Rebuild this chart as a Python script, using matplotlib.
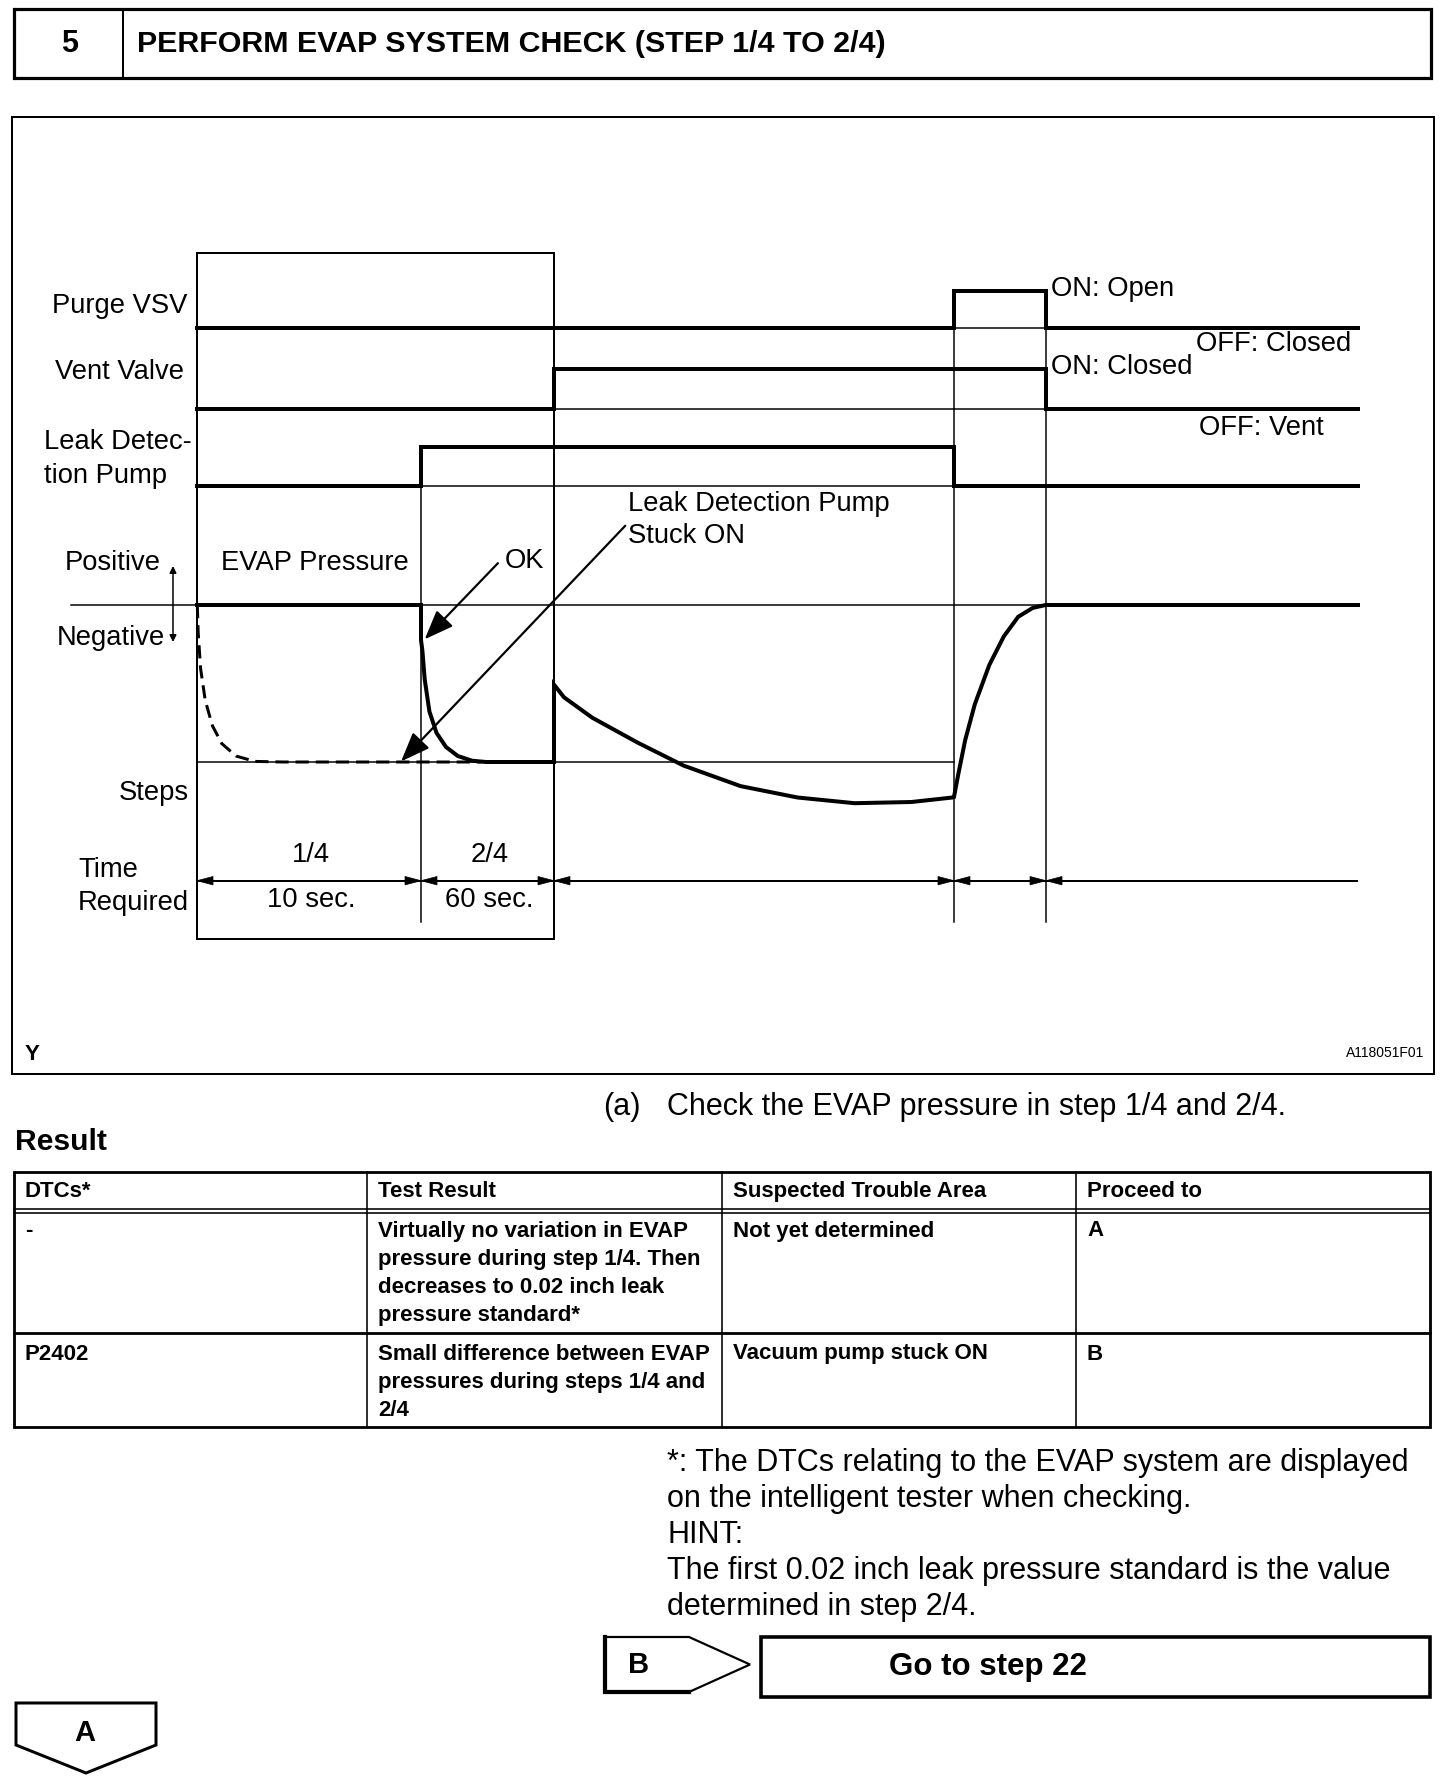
import matplotlib
matplotlib.use('Agg')
import matplotlib.pyplot as plt
from matplotlib.patches import Rectangle, Polygon

plt.rcParams['font.family'] = ['Liberation Sans', 'DejaVu Sans']
plt.rcParams['lines.scale_dashes'] = False

# ---------------- data ----------------
step_number = "5"
title_text = "PERFORM EVAP SYSTEM CHECK (STEP 1/4 TO 2/4)"

signal_labels = ["Purge VSV", "Vent Valve", "Leak Detec-\ntion Pump"]
# time boundaries of the diagram (diagram x units)
t_edges = [197, 421, 554, 954, 1046, 1358]
# ON(1)/OFF(0) state of each signal in each time segment
purge_states = [0, 0, 0, 1, 0]
vent_states = [0, 0, 1, 1, 0]
pump_states = [0, 1, 1, 0, 0]
signal_off_level = [328, 408.6, 486]
signal_on_level = [291, 369, 447]
signal_right_labels = [("ON: Open", "OFF: Closed"), ("ON: Closed", "OFF: Vent")]

step_labels = ["1/4", "2/4"]
step_times = ["10 sec.", "60 sec."]

pressure_zero = 605
pressure_steps = 762
# EVAP pressure trace (OK case)
ok_x = [197, 421, 421, 422.4, 424.7, 429.4, 436.5, 446, 457.8, 472, 486, 554,
        554, 564, 592.4, 638, 683.6, 740.5, 797.5, 854.5, 911.4, 952.5,
        954, 958, 965.2, 974.8, 989.3, 1003.8, 1018.2, 1032.7, 1045.7, 1358]
ok_y = [605, 605, 640, 650.7, 679.3, 711.4, 732.9, 747, 756, 760.7, 762, 762,
        684.6, 697.3, 717.8, 742.8, 765.6, 786.1, 797.5, 803.2, 802, 797.5,
        797, 775.7, 740, 704.3, 665, 636.4, 616.8, 607.9, 605, 605]
# EVAP pressure trace (leak detection pump stuck ON)
stuck_x = [197.3, 198.2, 200.6, 205.3, 212.4, 221.8, 236, 254.8, 283, 481.4]
stuck_y = [605, 632.9, 668.6, 700.7, 725.7, 743.6, 756, 761.4, 762, 762]

table_header = ["DTCs*", "Test Result", "Suspected Trouble Area", "Proceed to"]
table_rows = [
    ["-",
     ["Virtually no variation in EVAP", "pressure during step 1/4. Then",
      "decreases to 0.02 inch leak", "pressure standard*"],
     "Not yet determined", "A"],
    ["P2402",
     ["Small difference between EVAP", "pressures during steps 1/4 and", "2/4"],
     "Vacuum pump stuck ON", "B"],
]
note_lines = ["*: The DTCs relating to the EVAP system are displayed",
              "on the intelligent tester when checking.",
              "HINT:",
              "The first 0.02 inch leak pressure standard is the value",
              "determined in step 2/4."]

# ---------------- figure ----------------
W, H = 1456, 1786
fig = plt.figure(figsize=(W / 100, H / 100), dpi=100)
ax = fig.add_axes([0, 0, 1, 1])
ax.set_xlim(0, W)
ax.set_ylim(H, 0)
ax.axis('off')


def lw(p):
    return p * 0.72


THICK = lw(4)
THIN = lw(1.5)
K = 'black'

# header
ax.add_patch(Rectangle((14, 9), 1417, 68.5, fill=False, lw=lw(3.2), ec=K))
ax.plot([123, 123], [9, 77.5], color=K, lw=lw(2))
ax.text(70, 51.7, step_number, fontsize=22, fontweight='bold', ha='center', va='baseline')
ax.text(137, 51.7, title_text, fontsize=21.9, fontweight='bold', ha='left', va='baseline')

# diagram frame
ax.add_patch(Rectangle((12, 117), 1422, 957, fill=False, lw=lw(2), ec=K))
# step box
ax.add_patch(Rectangle((197, 253), 357, 686, fill=False, lw=lw(2), ec=K))

# signals
lab_fs = 19.7
for i, states in enumerate([purge_states, vent_states, pump_states]):
    off, on = signal_off_level[i], signal_on_level[i]
    xs, ys = [], []
    for s, st in enumerate(states):
        y = on if st else off
        xs += [t_edges[s], t_edges[s + 1]]
        ys += [y, y]
        if st:
            ax.plot([t_edges[s], t_edges[s + 1]], [off, off], color=K, lw=THIN)
    ax.plot(xs, ys, color=K, lw=THICK, solid_joinstyle='miter')

ax.text(187, 306, signal_labels[0], fontsize=lab_fs, ha='right', va='center')
ax.text(184, 372, signal_labels[1], fontsize=lab_fs, ha='right', va='center')
ax.text(44, 459, signal_labels[2], fontsize=lab_fs, ha='left', va='center', linespacing=1.4)

ax.text(1051, 289, signal_right_labels[0][0], fontsize=lab_fs, ha='left', va='center')
ax.text(1196, 344, signal_right_labels[0][1], fontsize=lab_fs, ha='left', va='center')
ax.text(1051, 367, signal_right_labels[1][0], fontsize=lab_fs, ha='left', va='center')
ax.text(1199, 428, signal_right_labels[1][1], fontsize=lab_fs, ha='left', va='center')

# vertical guide lines
ax.plot([t_edges[1]] * 2, [signal_on_level[2], 922], color=K, lw=THIN)
ax.plot([t_edges[3]] * 2, [signal_on_level[0], 922], color=K, lw=THIN)
ax.plot([t_edges[4]] * 2, [signal_on_level[0], 922], color=K, lw=THIN)

# pressure reference lines
ax.plot([71, t_edges[4]], [pressure_zero] * 2, color=K, lw=THIN)
ax.plot([t_edges[0], t_edges[3]], [pressure_steps] * 2, color=K, lw=THIN)

# pressure traces
ax.plot(stuck_x, stuck_y, color=K, lw=lw(3), dashes=(9.5, 5), dash_capstyle='butt')
ax.plot(ok_x, ok_y, color=K, lw=THICK, solid_joinstyle='miter')

# pressure labels
ax.text(161, 563, "Positive", fontsize=lab_fs, ha='right', va='center')
ax.text(165, 638, "Negative", fontsize=lab_fs, ha='right', va='center')
ax.annotate('', xy=(173, 566), xytext=(173, 642),
            arrowprops=dict(arrowstyle='<|-|>', lw=THIN, color=K, mutation_scale=10,
                            shrinkA=0, shrinkB=0))
ax.text(221, 563, "EVAP Pressure", fontsize=lab_fs, ha='left', va='center')
ax.text(505, 561, "OK", fontsize=lab_fs, ha='left', va='center')
ax.text(628, 504, "Leak Detection Pump", fontsize=lab_fs, ha='left', va='center')
ax.text(628, 536, "Stuck ON", fontsize=lab_fs, ha='left', va='center')
ax.annotate('', xy=(424.7, 639.3), xytext=(497.9, 563.2),
            arrowprops=dict(arrowstyle='-|>,head_length=0.9,head_width=0.35', lw=lw(2.2),
                            color=K, mutation_scale=20, shrinkA=0, shrinkB=0))
ax.annotate('', xy=(401.1, 761.4), xytext=(625.3, 525.7),
            arrowprops=dict(arrowstyle='-|>,head_length=0.9,head_width=0.35', lw=lw(2.2),
                            color=K, mutation_scale=20, shrinkA=0, shrinkB=0))

# steps / time required
ax.text(189, 793, "Steps", fontsize=lab_fs, ha='right', va='center')
ax.text(78, 870, "Time", fontsize=lab_fs, ha='left', va='center')
ax.text(78, 903, "Required", fontsize=lab_fs, ha='left', va='center')
for s in range(2):
    cx = (t_edges[s] + t_edges[s + 1]) / 2
    ax.text(cx + 2, 855, step_labels[s], fontsize=lab_fs, ha='center', va='center')
    ax.text(cx + 2, 900, step_times[s], fontsize=lab_fs, ha='center', va='center')

ty = 880.7
ax.plot([t_edges[0], 1357], [ty, ty], color=K, lw=lw(2))
HL, HW = 16, 4.2
for s in range(len(t_edges) - 1):
    a, b = t_edges[s], t_edges[s + 1]
    ax.add_patch(Polygon([(a, ty), (a + HL, ty - HW), (a + HL, ty + HW)], closed=True,
                         fc=K, ec=K, lw=0.5))
    if s < len(t_edges) - 2:
        ax.add_patch(Polygon([(b, ty), (b - HL, ty - HW), (b - HL, ty + HW)], closed=True,
                             fc=K, ec=K, lw=0.5))

ax.text(32, 1055, "Y", fontsize=16, fontweight='bold', ha='center', va='center')
ax.text(1424, 1053, "A118051F01", fontsize=10, ha='right', va='center')

# ---------------- below diagram ----------------
body_fs = 22
ax.text(603, 1115, "(a)", fontsize=body_fs, ha='left', va='baseline')
ax.text(667, 1115, "Check the EVAP pressure in step 1/4 and 2/4.", fontsize=body_fs,
        ha='left', va='baseline')
ax.text(15, 1150, "Result", fontsize=21.7, fontweight='bold', ha='left', va='baseline')

# table
col_x = [14, 367, 722, 1076, 1430]
row_y = [1172, 1211, 1332.7, 1427.3]
tfs = 16
ax.add_patch(Rectangle((col_x[0], row_y[0]), col_x[-1] - col_x[0], row_y[-1] - row_y[0],
                       fill=False, lw=lw(2.8), ec=K))
for x in col_x[1:-1]:
    ax.plot([x, x], [row_y[0], row_y[-1]], color=K, lw=lw(1.6))
ax.plot([col_x[0], col_x[-1]], [row_y[1] - 2, row_y[1] - 2], color=K, lw=lw(1.6))
ax.plot([col_x[0], col_x[-1]], [row_y[1] + 2, row_y[1] + 2], color=K, lw=lw(1.6))
ax.plot([col_x[0], col_x[-1]], [row_y[2], row_y[2]], color=K, lw=lw(2.8))
pad = 11
for c, h in enumerate(table_header):
    ax.text(col_x[c] + pad, 1197, h, fontsize=tfs, fontweight='bold', ha='left', va='baseline')
line_step = 28.3
row_first_base = [1236.5, 1359.5]
for r, row in enumerate(table_rows):
    for c, cell in enumerate(row):
        lines = cell if isinstance(cell, list) else [cell]
        for k, ln in enumerate(lines):
            ax.text(col_x[c] + pad, row_first_base[r] + k * line_step, ln, fontsize=tfs,
                    fontweight='bold', ha='left', va='baseline')

# notes
for k, ln in enumerate(note_lines):
    ax.text(667, 1471 + k * 36, ln, fontsize=body_fs, ha='left', va='baseline')

# B flag and "Go to step 22"
b_pts = [(605, 1637), (689, 1637), (750, 1664.5), (689, 1692), (605, 1692)]
ax.add_patch(Polygon(b_pts, closed=True, fill=False, ec=K, lw=lw(2.2), joinstyle='miter'))
ax.plot([605, 605, 689], [1637, 1692, 1692], color=K, lw=lw(4.2), solid_joinstyle='miter')
ax.text(639, 1665, "B", fontsize=21, fontweight='bold', ha='center', va='center')
ax.add_patch(Rectangle((761, 1637), 669, 60, fill=False, ec=K, lw=lw(3.6)))
ax.text(988, 1667, "Go to step 22", fontsize=22.5, fontweight='bold', ha='center', va='center')

# A flag
a_pts = [(16, 1703), (156, 1703), (156, 1745), (86, 1773), (16, 1745)]
ax.add_patch(Polygon(a_pts, closed=True, fill=False, ec=K, lw=lw(3), joinstyle='miter'))
ax.text(85, 1733, "A", fontsize=21, fontweight='bold', ha='center', va='center')

fig.savefig('out.png', dpi=100, facecolor='white')
